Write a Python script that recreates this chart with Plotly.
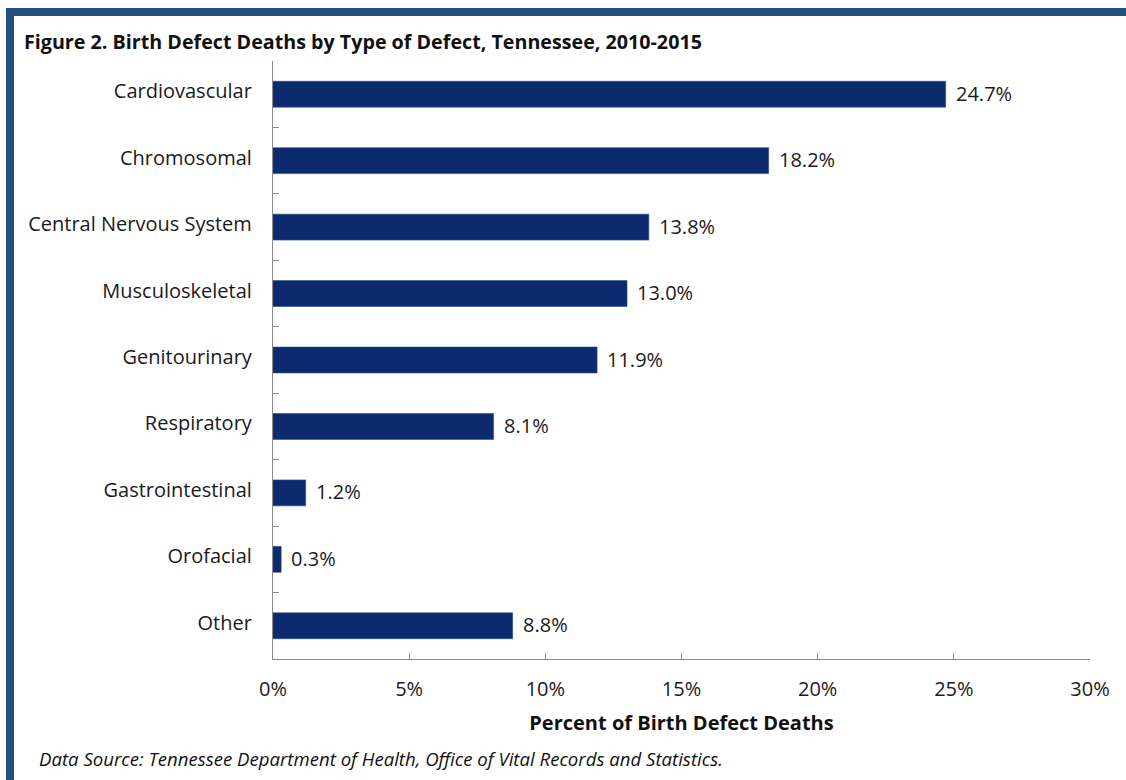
import plotly.graph_objects as go

categories = ["Cardiovascular", "Chromosomal", "Central Nervous System", "Musculoskeletal",
              "Genitourinary", "Respiratory", "Gastrointestinal", "Orofacial", "Other"]
percent = [24.7, 18.2, 13.8, 13.0, 11.9, 8.1, 1.2, 0.3, 8.8]
x_ticks = [0, 5, 10, 15, 20, 25, 30]
x_tick_labels = ["0%", "5%", "10%", "15%", "20%", "25%", "30%"]

W, H = 1126, 780
L, R, T, B = 273, 1090, 61, 659
FONT = "Open Sans"
BORDER = "#234e80"
BAR = "#0c2a6e"


def px(x):
    return (x - L) / (R - L)


def py(y):
    return (B - y) / (B - T)


fig = go.Figure(go.Bar(
    y=categories, x=percent, orientation="h",
    marker=dict(color=BAR, line=dict(color="#2a4a8a", width=0.6)),
    width=0.39,
))

# value labels just past the end of each bar
for cat, v in zip(categories, percent):
    fig.add_annotation(x=v, y=cat, text=f"{v:.1f}%", xanchor="left", yanchor="middle",
                       xshift=8, yshift=1, showarrow=False,
                       font=dict(family=FONT, size=20, color="#1a1a1a"))

fig.update_layout(
    width=W, height=H,
    margin=dict(l=L, r=W - R, t=T, b=H - B, autoexpand=False),
    paper_bgcolor="white", plot_bgcolor="white",
    showlegend=False,
    font=dict(family=FONT, size=20, color="#1a1a1a"),
    xaxis=dict(range=[0, 30], tickvals=x_ticks, ticktext=x_tick_labels,
               showgrid=False, zeroline=False, showline=True, linecolor="#8a8a8a", linewidth=1.3,
               ticks="inside", ticklen=6, tickcolor="#8a8a8a",
               tickfont=dict(family=FONT, size=20, color="#1a1a1a"),
               ticklabelstandoff=12,
               title=dict(text="<b>Percent of Birth Defect Deaths</b>",
                          font=dict(family=FONT, size=20, color="#111"), standoff=14)),
    yaxis=dict(autorange="reversed", showgrid=False, zeroline=False,
               showline=True, linecolor="#8a8a8a", linewidth=1.3,
               ticks="inside", ticklen=6, tickcolor="#8a8a8a", tickson="boundaries",
               tickfont=dict(family=FONT, size=20, color="#1a1a1a"),
               ticklabelstandoff=16, ticklabelshift=3),
)

# frame: top band and left band
fig.add_shape(type="rect", xref="paper", yref="paper",
              x0=px(6), x1=px(W + 5), y0=py(8), y1=py(16),
              fillcolor=BORDER, line=dict(width=0), layer="above")
fig.add_shape(type="rect", xref="paper", yref="paper",
              x0=px(6), x1=px(14), y0=py(8), y1=py(H + 5),
              fillcolor=BORDER, line=dict(width=0), layer="above")

fig.add_annotation(text="<b>Figure 2. Birth Defect Deaths by Type of Defect, Tennessee, 2010-2015</b>",
                   xref="paper", yref="paper", x=px(22), y=py(42),
                   xanchor="left", yanchor="middle", showarrow=False,
                   font=dict(family=FONT, size=19.7, color="#111"))
fig.add_annotation(text="<i>Data Source: Tennessee Department of Health, Office of Vital Records and Statistics.</i>",
                   xref="paper", yref="paper", x=px(37), y=py(758),
                   xanchor="left", yanchor="middle", showarrow=False,
                   font=dict(family=FONT, size=18.6, color="#111"))

fig.write_html("out.html")
